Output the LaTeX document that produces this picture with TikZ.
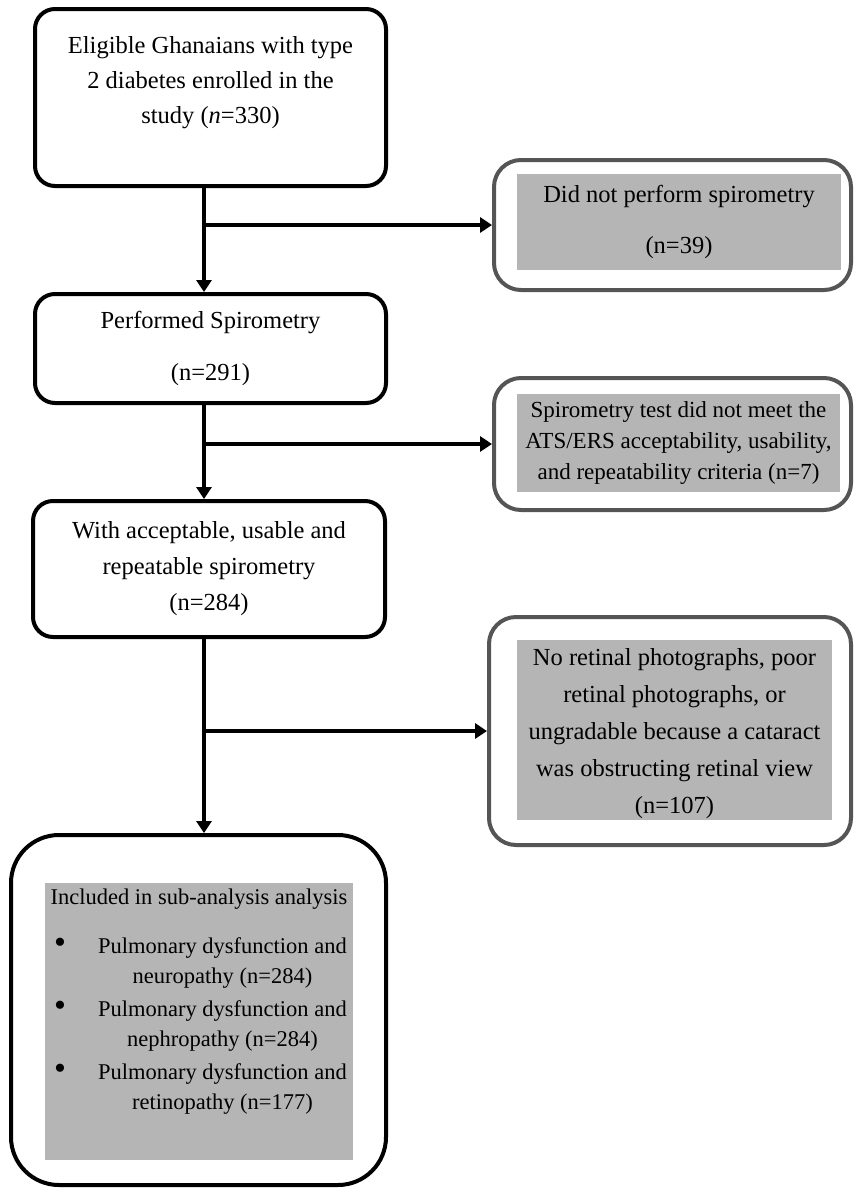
\documentclass[tikz,border=0pt]{standalone}
\usepackage{fontspec}
\setmainfont{Liberation Serif}
\usetikzlibrary{arrows.meta}

\definecolor{fillgrey}{HTML}{B5B5B5}
\definecolor{edgegrey}{HTML}{555555}

\newcommand{\bigdot}{{\fontsize{34}{30}\selectfont\textbullet}}

\tikzset{
  mainbox/.style={draw, line width=4pt, rounded corners=20pt, align=center,
    inner sep=0pt, font=\fontsize{24.5}{35}\selectfont},
  sidebox/.style={draw=edgegrey, line width=4pt, rounded corners=27pt, inner sep=0pt},
  greybox/.style={fill=fillgrey, inner sep=0pt, align=center,
    font=\fontsize{24.5}{37}\selectfont},
  flow/.style={line width=4pt, -{Triangle[length=12pt,width=15pt]}},
}

\begin{document}
\begin{tikzpicture}[x=1pt,y=-1pt]
    \useasboundingbox (0,0) rectangle (855,1189);

    % left column
    \node[mainbox, minimum width=351pt, minimum height=177pt] (enrol) at (210.5,97.5)
        {Eligible Ghanaians with type\\2 diabetes enrolled in the\\study (\textit{n}=330)\\~};
    \node[mainbox, minimum width=351pt, minimum height=109pt] (spiro) at (210.5,348.5)
        {Performed Spirometry\\[17pt](n=291)};
    \node[mainbox, minimum width=352pt, minimum height=136pt,
        font=\fontsize{24.5}{36}\selectfont] (accept) at (209,569)
        {With acceptable, usable and\\repeatable spirometry\\(n=284)};
    \node[mainbox, rounded corners=48pt, minimum width=375pt, minimum height=350pt] (incl) at (198.5,1010) {};
    \node[greybox, inner xsep=3pt, inner ysep=6pt, minimum width=308pt, anchor=north] (incl-txt) at (199,883)
        {\begin{minipage}[t][265pt][t]{302pt}
         \fontsize{22.5}{30}\selectfont\centering
         Included in sub-analysis analysis\par
         \vspace{19pt}
         \begin{list}{\bigdot}{\setlength\leftmargin{47pt}\setlength\labelwidth{13pt}%
             \setlength\labelsep{32pt}\setlength\itemsep{3pt}\setlength\parsep{0pt}%
             \setlength\topsep{0pt}\setlength\partopsep{0pt}}
           \item\centering Pulmonary dysfunction and\\neuropathy (n=284)
           \item\centering Pulmonary dysfunction and\\nephropathy (n=284)
           \item\centering Pulmonary dysfunction and\\retinopathy (n=177)
         \end{list}
         \end{minipage}};

    % right column
    \node[sidebox, minimum width=357pt, minimum height=130pt] (nospiro) at (672.5,225) {};
    \node[greybox, minimum width=324pt, minimum height=96pt] (nospiro-txt) at (679,222)
        {Did not perform spirometry\\[14pt](n=39)};
    \node[sidebox, minimum width=357pt, minimum height=132pt] (badtest) at (672.5,444) {};
    \node[greybox, minimum width=323pt, minimum height=98pt,
        font=\fontsize{23}{31}\selectfont] (badtest-txt) at (678.5,443)
        {Spirometry test did not meet the\\ATS/ERS acceptability, usability,\\and repeatability criteria (n=7)};
    \node[sidebox, minimum width=362pt, minimum height=228pt] (noretina) at (670,731) {};
    \node[greybox, minimum width=315pt, minimum height=180pt] (noretina-txt) at (674.5,730)
        {\\[-12pt]No retinal photographs, poor\\retinal photographs, or\\ungradable because a cataract\\was obstructing retinal view\\(n=107)};

    % connectors
    \coordinate (spine) at (204,0);
    \draw[flow] (enrol.south -| spine) -- (spiro.north -| spine);
    \draw[flow] (spine |- nospiro.west) -- (nospiro.west);
    \draw[flow] (spiro.south -| spine) -- (accept.north -| spine);
    \draw[flow] (spine |- badtest.west) -- (badtest.west);
    \draw[flow] (accept.south -| spine) -- (incl.north -| spine);
    \draw[flow] (spine |- noretina.west) -- (noretina.west);
\end{tikzpicture}
\end{document}
